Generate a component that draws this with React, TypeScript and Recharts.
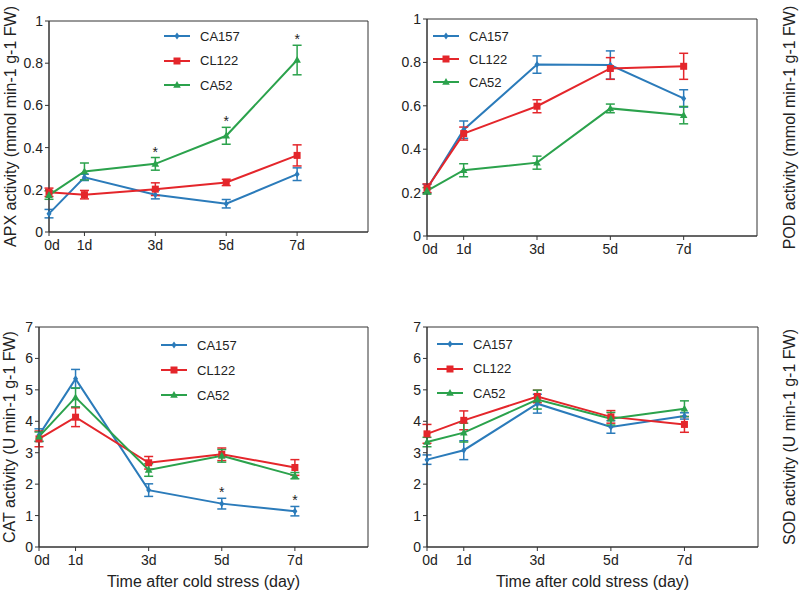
import React from "react";
import {
  LineChart,
  Line,
  XAxis,
  YAxis,
  ErrorBar,
  ReferenceArea,
  Legend,
} from "recharts";

// sampling days and their tick labels
const days = [0, 1, 3, 5, 7];
const dayLabels = ["0d", "1d", "3d", "5d", "7d"];
const lineNames = ["CA157", "CL122", "CA52"];

// APX
const apxCA157 = [0.087, 0.259, 0.177, 0.134, 0.274];
const apxCA157Err = [0.02, 0.015, 0.02, 0.02, 0.03];
const apxCL122 = [0.188, 0.177, 0.203, 0.235, 0.363];
const apxCL122Err = [0.02, 0.02, 0.03, 0.015, 0.05];
const apxCA52 = [0.175, 0.287, 0.323, 0.456, 0.815];
const apxCA52Err = [0.02, 0.04, 0.03, 0.04, 0.07];
const apxSignif = [false, false, true, true, true];

// POD
const podCA157 = [0.218, 0.49, 0.79, 0.788, 0.634];
const podCA157Err = [0.02, 0.04, 0.04, 0.065, 0.04];
const podCL122 = [0.22, 0.472, 0.598, 0.772, 0.782];
const podCL122Err = [0.02, 0.03, 0.03, 0.05, 0.06];
const podCA52 = [0.208, 0.303, 0.338, 0.588, 0.557];
const podCA52Err = [0.015, 0.03, 0.03, 0.02, 0.04];
const podSignif = [false, false, false, false, false];

// CAT
const catCA157 = [3.56, 5.35, 1.81, 1.38, 1.14];
const catCA157Err = [0.2, 0.3, 0.2, 0.17, 0.15];
const catCL122 = [3.44, 4.13, 2.68, 2.95, 2.53];
const catCL122Err = [0.25, 0.3, 0.2, 0.2, 0.25];
const catCA52 = [3.51, 4.76, 2.45, 2.9, 2.27];
const catCA52Err = [0.15, 0.3, 0.2, 0.2, 0.1];
const catSignif = [false, false, false, true, true];

// SOD
const sodCA157 = [2.78, 3.08, 4.56, 3.82, 4.17];
const sodCA157Err = [0.15, 0.3, 0.3, 0.2, 0.1];
const sodCL122 = [3.6, 4.03, 4.79, 4.14, 3.9];
const sodCL122Err = [0.3, 0.3, 0.2, 0.2, 0.25];
const sodCA52 = [3.34, 3.64, 4.69, 4.08, 4.4];
const sodCA52Err = [0.15, 0.3, 0.3, 0.2, 0.25];
const sodSignif = [false, false, false, false, false];

const ticks01 = [0, 0.2, 0.4, 0.6, 0.8, 1];
const ticks07 = [0, 1, 2, 3, 4, 5, 6, 7];

const colors: Record<string, string> = {
  CA157: "#2b7bba",
  CL122: "#e4262b",
  CA52: "#2ba24c",
};

const FONT = "'Liberation Sans', Arial, sans-serif";
const TEXT = "#222";
const AXIS = "#333";

type Series = { name: string; values: number[]; errors: number[] };

const buildRows = (series: Series[], starOn: string, signif: boolean[]) =>
  days.map((day, i) => {
    const row: Record<string, number | null> = { day };
    series.forEach((s) => {
      row[s.name] = s.values[i];
      row[s.name + "Err"] = s.errors[i];
    });
    const st = series.find((s) => s.name === starOn)!;
    row.star = signif[i] ? st.values[i] + st.errors[i] : null;
    return row;
  });

const Marker = ({ name, cx, cy }: { name: string; cx: number; cy: number }) => {
  const c = colors[name];
  if (name === "CA157")
    return (
      <polygon
        points={`${cx},${cy - 3.5} ${cx + 2.5},${cy} ${cx},${cy + 3.5} ${cx - 2.5},${cy}`}
        fill={c}
      />
    );
  if (name === "CL122")
    return <rect x={cx - 3.5} y={cy - 3.5} width={7} height={7} fill={c} />;
  return (
    <polygon
      points={`${cx},${cy - 4} ${cx + 3.8},${cy + 2.8} ${cx - 3.8},${cy + 2.8}`}
      fill={c}
    />
  );
};

// asterisk above the error bar
const renderStar = (props: any) => {
  const { x, y, value, index } = props;
  if (value === null || value === undefined) return null;
  return (
    <text
      key={`star-${index}`}
      x={x}
      y={y - 1}
      textAnchor="middle"
      fontSize={14}
      fill={TEXT}
      fontFamily={FONT}
    >
      *
    </text>
  );
};

// x tick, the first label nudged right off the corner
const DayTick = (props: any) => {
  const { x, y, payload, index } = props;
  return (
    <text
      x={x + (index === 0 ? 3 : 0)}
      y={y + 11}
      textAnchor="middle"
      fontSize={14}
      fill={TEXT}
      fontFamily={FONT}
    >
      {dayLabels[days.indexOf(payload.value)]}
    </text>
  );
};

const LegendBox = ({ rowH }: { rowH: number }) => (
  <div style={{ fontFamily: FONT, fontSize: 13, color: TEXT }}>
    {lineNames.map((n) => (
      <div key={n} style={{ display: "flex", alignItems: "center", height: rowH }}>
        <svg width={28} height={12}>
          <line x1={1} y1={6} x2={27} y2={6} stroke={colors[n]} strokeWidth={2} />
          <Marker name={n} cx={14} cy={6} />
        </svg>
        <span style={{ marginLeft: 9 }}>{n}</span>
      </div>
    ))}
  </div>
);

interface PanelProps {
  series: Series[];
  starOn: string;
  signif: boolean[];
  yMax: number;
  yTicks: number[];
  yLabel: string;
  labelSide: "left" | "right";
  width: number;
  height: number;
  margin: { top: number; right: number; bottom: number; left: number };
  leftW: number;
  rightW: number;
  xHeight: number;
  xTitle?: string;
  legendPos: { left: number; top: number; rowH: number };
}

const Panel = (p: PanelProps) => {
  const rows = buildRows(p.series, p.starOn, p.signif);
  const labelStyle = { textAnchor: "middle" as const, fontSize: 16, fill: TEXT, fontFamily: FONT };
  return (
    <LineChart width={p.width} height={p.height} data={rows} margin={p.margin}>
      <XAxis
        type="number"
        dataKey="day"
        domain={[0, 9]}
        ticks={days}
        interval={0}
        height={p.xHeight}
        tickSize={4}
        tickMargin={3}
        tick={<DayTick />}
        stroke={AXIS}
        label={
          p.xTitle
            ? { value: p.xTitle, position: "insideBottom", offset: 6, style: { ...labelStyle } }
            : undefined
        }
      />
      <YAxis
        type="number"
        domain={[0, p.yMax]}
        ticks={p.yTicks}
        interval={0}
        width={p.leftW}
        tickSize={4}
        tickMargin={2}
        tick={{ fontSize: 14, fill: TEXT, fontFamily: FONT }}
        stroke={AXIS}
        label={
          p.labelSide === "left"
            ? { value: p.yLabel, angle: -90, position: "insideLeft", offset: p.leftW > 45 ? 10 : 9, style: labelStyle }
            : undefined
        }
      />
      {p.labelSide === "right" && (
        <YAxis
          yAxisId="right"
          orientation="right"
          type="number"
          domain={[0, p.yMax]}
          width={p.rightW}
          tick={false}
          tickLine={false}
          axisLine={false}
          label={{ value: p.yLabel, angle: -90, position: "insideRight", offset: 11, style: labelStyle }}
        />
      )}
      <ReferenceArea
        x1={0}
        x2={9}
        y1={0}
        y2={p.yMax}
        fill="none"
        stroke={AXIS}
        strokeWidth={1}
        ifOverflow="visible"
      />
      <Legend
        layout="vertical"
        align="center"
        verticalAlign="middle"
        wrapperStyle={{ left: p.legendPos.left, top: p.legendPos.top, width: 120 }}
        content={() => <LegendBox rowH={p.legendPos.rowH} />}
      />
      {p.series.map((s) => (
        <Line
          key={s.name}
          dataKey={s.name}
          stroke={colors[s.name]}
          strokeWidth={2}
          isAnimationActive={false}
          activeDot={false}
          dot={(d: any) => (
            <g key={`${s.name}-${d.index}`}>
              <Marker name={s.name} cx={d.cx} cy={d.cy} />
            </g>
          )}
        >
          <ErrorBar
            dataKey={s.name + "Err"}
            direction="y"
            width={4.5}
            stroke={colors[s.name]}
            strokeWidth={1.5}
            isAnimationActive={false}
          />
        </Line>
      ))}
      <Line
        dataKey="star"
        stroke="none"
        dot={false}
        activeDot={false}
        legendType="none"
        isAnimationActive={false}
        label={renderStar}
      />
    </LineChart>
  );
};

const mk = (v: number[][]): Series[] =>
  lineNames.map((name, i) => ({ name, values: v[i * 2], errors: v[i * 2 + 1] }));

export default function App() {
  return (
    <div
      style={{
        position: "absolute",
        left: 0,
        top: 0,
        width: 800,
        height: 593,
        background: "#fff",
      }}
    >
      <div style={{ position: "absolute", left: 0, top: 0 }}>
        <Panel
          series={mk([apxCA157, apxCA157Err, apxCL122, apxCL122Err, apxCA52, apxCA52Err])}
          starOn="CA52"
          signif={apxSignif}
          yMax={1}
          yTicks={ticks01}
          yLabel="APX activity (mmol min-1 g-1 FW)"
          labelSide="left"
          width={400}
          height={300}
          margin={{ top: 21, right: 32, bottom: 38, left: 0 }}
          leftW={49}
          rightW={0}
          xHeight={30}
          legendPos={{ left: 163, top: 24, rowH: 24.5 }}
        />
      </div>
      <div style={{ position: "absolute", left: 400, top: 0 }}>
        <Panel
          series={mk([podCA157, podCA157Err, podCL122, podCL122Err, podCA52, podCA52Err])}
          starOn="CA157"
          signif={podSignif}
          yMax={1}
          yTicks={ticks01}
          yLabel="POD activity (mmol min-1 g-1 FW)"
          labelSide="right"
          width={400}
          height={300}
          margin={{ top: 19, right: 0, bottom: 34, left: 0 }}
          leftW={27}
          rightW={43}
          xHeight={30}
          legendPos={{ left: 32, top: 24.5, rowH: 23 }}
        />
      </div>
      <div style={{ position: "absolute", left: 0, top: 300 }}>
        <Panel
          series={mk([catCA157, catCA157Err, catCL122, catCL122Err, catCA52, catCA52Err])}
          starOn="CA157"
          signif={catSignif}
          yMax={7}
          yTicks={ticks07}
          yLabel="CAT activity (U min-1 g-1 FW)"
          labelSide="left"
          width={400}
          height={293}
          margin={{ top: 27, right: 32, bottom: 0, left: 0 }}
          leftW={39}
          rightW={0}
          xHeight={46}
          xTitle="Time after cold stress (day)"
          legendPos={{ left: 160, top: 32.5, rowH: 25 }}
        />
      </div>
      <div style={{ position: "absolute", left: 400, top: 300 }}>
        <Panel
          series={mk([sodCA157, sodCA157Err, sodCL122, sodCL122Err, sodCA52, sodCA52Err])}
          starOn="CA157"
          signif={sodSignif}
          yMax={7}
          yTicks={ticks07}
          yLabel="SOD activity (U min-1 g-1 FW)"
          labelSide="right"
          width={400}
          height={293}
          margin={{ top: 27, right: 0, bottom: 0, left: 0 }}
          leftW={27}
          rightW={42}
          xHeight={46}
          xTitle="Time after cold stress (day)"
          legendPos={{ left: 36, top: 32, rowH: 24.5 }}
        />
      </div>
    </div>
  );
}
